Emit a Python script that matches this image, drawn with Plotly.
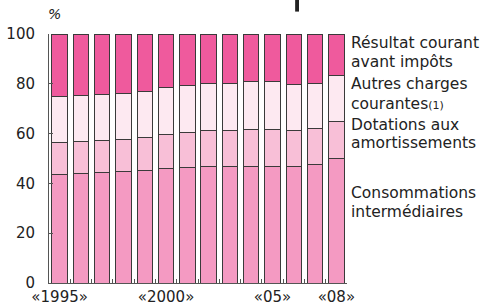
import plotly.graph_objects as go

years = [str(y) for y in range(1995, 2009)]
tick_text = ["«1995»", "", "", "", "", "«2000»", "", "", "", "", "«05»", "", "", "«08»"]
consommations = [43.7, 44.1, 44.5, 44.8, 45.0, 45.8, 46.5, 46.9, 46.7, 46.9, 46.9, 46.6, 47.6, 50.0]
dotations = [12.8, 12.9, 12.9, 12.9, 13.3, 13.7, 13.8, 14.2, 14.4, 14.8, 14.9, 14.8, 14.5, 15.0]
autres = [18.5, 18.2, 18.2, 18.5, 18.8, 19.0, 19.0, 19.0, 19.0, 19.2, 19.1, 18.4, 18.1, 18.3]
resultat = [25.0, 24.8, 24.4, 23.8, 22.9, 21.5, 20.7, 19.9, 19.9, 19.1, 19.1, 20.2, 19.8, 16.7]
y_ticks = [0, 20, 40, 60, 80, 100]

series = [
    ("Consommations intermédiaires", consommations, "#F49AC2"),
    ("Dotations aux amortissements", dotations, "#F8BFD7"),
    ("Autres charges courantes", autres, "#FDE9F1"),
    ("Résultat courant avant impôts", resultat, "#EF5A9D"),
]

FONT = "DejaVu Sans"
fig = go.Figure()
for name, vals, col in series:
    fig.add_trace(go.Bar(x=years, y=vals, name=name, marker=dict(color=col, line=dict(color="#3a3a3a", width=1))))

fig.update_layout(
    barmode="stack",
    bargap=0.27,
    width=481, height=306,
    margin=dict(l=49, r=134, t=34, b=23, autoexpand=False),
    paper_bgcolor="white", plot_bgcolor="white",
    showlegend=False,
    font=dict(family=FONT, size=15, color="#222"),
)
fig.update_xaxes(
    type="category", tickvals=years, ticktext=tick_text, range=[-0.5, 13.5],
    showline=True, linecolor="#555", linewidth=1, tickangle=0, automargin=False,
    ticks="inside", ticklen=4, tickcolor="#555", tickson="boundaries",
    showgrid=False, tickfont=dict(size=15, family=FONT),
)
fig.update_yaxes(
    range=[0, 100], tickvals=y_ticks, showline=True, linecolor="#555", linewidth=1,
    ticks="inside", ticklen=4, tickcolor="#555", showgrid=False, zeroline=False,
    tickfont=dict(size=15, family=FONT), ticklabelstandoff=10, automargin=False,
)

labels = [
    ("Résultat courant", 96.5), ("avant impôts", 88.9),
    ("Autres charges", 80.0), ("courantes<span style='font-size:11px'>(1)</span>", 72.0),
    ("Dotations aux", 63.5), ("amortissements", 56.3),
    ("Consommations", 36.2), ("intermédiaires", 28.6),
]
for txt, yv in labels:
    fig.add_annotation(text=txt, xref="paper", yref="y", x=1.008, y=yv, xanchor="left", yanchor="middle",
                       showarrow=False, font=dict(size=15.5, family=FONT, color="#222"))

fig.add_annotation(text="<i>%</i>", xref="paper", yref="paper", x=0.02, y=1.08, xanchor="center", yanchor="middle",
                   showarrow=False, font=dict(size=14, family=FONT, color="#222"))
fig.add_shape(type="rect", xref="paper", yref="paper", x0=0.826, x1=0.839, y0=1.09, y1=1.16,
              fillcolor="#222", line=dict(width=0))

fig.write_html("out.html", config={"displayModeBar": False},
               post_script="document.body.style.margin='0';document.body.style.padding='0';")
